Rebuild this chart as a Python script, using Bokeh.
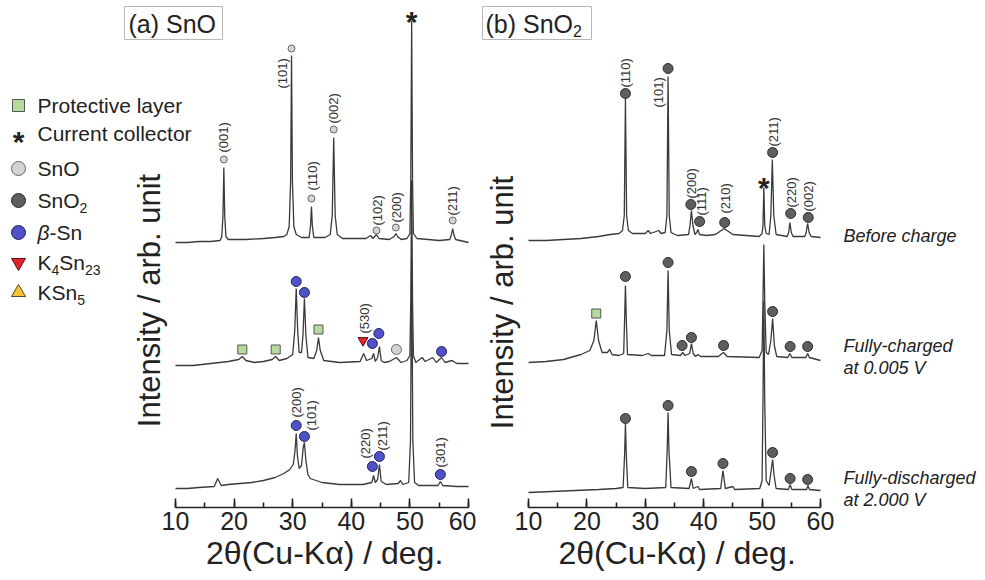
import math
from bokeh.plotting import figure
from bokeh.models import Range1d, SingleIntervalTicker, Title
from bokeh.layouts import row
from bokeh.core.properties import value
from bokeh.embed import file_html
from bokeh.resources import INLINE

# ---------------------------------------------------------------- data
tick_interval = 10
x_bounds = (10, 60)
x_title = "2θ(Cu-Kα) / deg."
y_title = "Intensity / arb. unit"

# (a) SnO electrode -------------------------------------------------
a_before_tth = [10.0, 12.0, 14.0, 16.0, 17.6, 17.9, 18.1, 18.25, 18.4, 18.6, 19.0, 22.0, 25.0, 27.0, 28.5,
                29.0, 29.4, 29.65, 29.8, 29.95, 30.2, 30.6, 31.5, 32.8, 33.05, 33.2, 33.35, 33.6, 35.5, 36.4,
                36.75, 37.0, 37.25, 37.6, 38.5, 42.5, 43.3, 43.7, 44.3, 44.7, 46.5, 47.3, 47.6, 47.9, 48.5,
                49.5, 50.0, 50.15, 50.3, 50.45, 50.6, 51.2, 55.0, 56.8, 57.1, 57.3, 57.5, 57.8, 60.0]
a_before_int = [3, 3, 4, 4, 5, 9, 30, 78, 30, 9, 6, 6, 7, 8, 9,
                11, 19, 65, 190, 65, 19, 11, 8, 8, 20, 39, 20, 8, 8, 11,
                30, 108, 30, 11, 7, 7, 10, 7, 11, 7, 6, 9, 12, 9, 6,
                7, 12, 65, 225, 65, 12, 7, 5, 6, 11, 17, 11, 6, 3]

a_charged_tth = [10.0, 13.0, 16.0, 19.0, 20.8, 21.4, 22.0, 23.5, 25.0, 26.5, 27.1, 27.7, 29.0, 30.0, 30.35,
                 30.6, 30.85, 31.1, 31.5, 31.75, 32.0, 32.25, 32.6, 33.6, 34.1, 34.4, 34.7, 35.3, 38.0, 41.5,
                 42.1, 42.6, 43.5, 43.8, 44.1, 44.5, 44.8, 45.1, 45.6, 46.5, 47.7, 48.5, 49.5, 50.0, 50.15,
                 50.3, 50.45, 50.6, 51.0, 52.1, 52.6, 53.9, 54.5, 55.4, 56.0, 57.2, 58.0, 60.0]
a_charged_int = [3, 3, 5, 7, 9, 12, 8, 6, 7, 9, 12, 8, 10, 14, 38,
                 80, 38, 16, 16, 33, 70, 33, 11, 10, 18, 31, 18, 8, 6, 7,
                 15, 8, 10, 15, 7, 11, 22, 8, 6, 7, 11, 6, 8, 13, 68,
                 188, 68, 13, 6, 11, 7, 11, 6, 11, 6, 8, 5, 5]

a_disch_tth = [10.0, 12.0, 14.0, 16.6, 17.2, 17.8, 19.0, 21.0, 23.0, 25.0, 27.0, 28.5, 29.5, 30.1, 30.4,
               30.6, 30.8, 31.1, 31.5, 31.8, 32.0, 32.25, 32.6, 33.0, 35.0, 38.0, 42.0, 43.5, 43.8, 44.1,
               44.5, 44.8, 45.1, 46.0, 48.0, 48.4, 48.8, 49.8, 50.1, 50.3, 50.5, 50.8, 51.5, 54.8, 55.2,
               55.6, 58.0, 60.0]
a_disch_int = [4, 4, 5, 6, 14, 7, 8, 9, 10, 12, 15, 19, 23, 28, 42,
               59, 37, 24, 27, 45, 50, 32, 18, 14, 10, 8, 8, 10, 17, 10,
               13, 28, 11, 8, 9, 12, 8, 10, 52, 232, 52, 10, 7, 7, 11,
               7, 6, 6]

a_offsets = [262, 139, 15]          # stacking offsets (before, charged, discharged)

# phase markers, panel (a)
a_before_sno_x = [18.25, 29.8, 33.2, 37.0, 44.3, 47.6, 57.3]
a_before_sno_y = [86, 197, 47, 116, 15, 18, 25]
a_before_hkl = ["(001)", "(101)", "(110)", "(002)", "(102)", "(200)", "(211)"]
a_before_hkl_x = [18.25, 28.3, 33.3, 37.0, 44.4, 47.7, 57.3]
a_before_hkl_y = [93, 157, 55, 122, 20, 23, 30]
a_star_x, a_star_y = [50.3], [224]

a_charged_prot_x = [21.4, 27.1, 34.4]
a_charged_prot_y = [19, 19, 39]
a_charged_sn_x = [30.6, 32.0, 43.6, 44.7, 55.4]
a_charged_sn_y = [87, 76, 25, 35, 17]
a_charged_sno_x = [47.7]
a_charged_sno_y = [19]
a_charged_k4_x = [42.0]
a_charged_k4_y = [28]
a_charged_hkl = ["(530)"]
a_charged_hkl_x = [42.2]
a_charged_hkl_y = [35]

a_disch_sn_x = [30.6, 32.0, 43.6, 44.8, 55.2]
a_disch_sn_y = [67, 56, 26, 36, 18]
a_disch_hkl = ["(200)", "(101)", "(220)", "(211)", "(301)"]
a_disch_hkl_x = [30.65, 33.2, 42.5, 45.3, 55.3]
a_disch_hkl_y = [75, 62, 34, 42, 25]

# (b) SnO2 electrode ------------------------------------------------
b_before_tth = [10.0, 13.0, 16.0, 19.0, 22.0, 24.0, 25.5, 26.1, 26.4, 26.6, 26.8, 27.1, 27.8, 30.0, 30.5,
                30.9, 32.3, 32.7, 33.4, 33.7, 33.9, 34.1, 34.4, 35.5, 37.4, 37.65, 37.9, 38.15, 38.5, 38.8,
                39.0, 39.3, 40.5, 42.0, 43.0, 43.5, 44.0, 45.0, 49.5, 50.0, 50.15, 50.3, 50.45, 50.7, 51.2,
                51.5, 51.75, 52.0, 52.4, 54.3, 54.55, 54.75, 55.0, 55.3, 57.3, 57.55, 57.8, 58.05, 58.4, 60.0]
b_before_int = [3, 3, 4, 5, 7, 9, 10, 13, 28, 145, 28, 13, 10, 10, 13,
                10, 13, 10, 11, 28, 167, 28, 11, 8, 9, 18, 33, 18, 9, 11,
                14, 9, 8, 9, 13, 15, 13, 9, 7, 10, 18, 56, 18, 10, 9,
                28, 84, 28, 9, 7, 11, 21, 11, 7, 7, 11, 20, 11, 7, 6]

b_charged_tth = [10.0, 13.0, 16.0, 19.0, 20.5, 21.2, 21.6, 22.0, 22.6, 23.5, 23.9, 24.3, 25.5, 26.3, 26.45,
                 26.6, 26.75, 26.95, 29.5, 30.5, 31.0, 33.3, 33.7, 33.9, 34.1, 34.5, 36.0, 36.4, 36.8, 37.6,
                 37.9, 38.2, 38.6, 39.0, 39.5, 42.5, 43.4, 44.0, 49.5, 50.0, 50.15, 50.3, 50.45, 50.7, 51.1,
                 51.5, 51.8, 52.1, 52.5, 54.4, 54.75, 55.1, 57.5, 57.8, 58.1, 60.0]
b_charged_int = [3, 4, 6, 11, 15, 25, 45, 25, 13, 13, 16, 11, 10, 12, 45,
                 80, 45, 11, 10, 12, 10, 10, 35, 95, 35, 11, 10, 13, 10, 12,
                 22, 12, 9, 11, 9, 9, 13, 9, 8, 15, 65, 121, 65, 13, 11,
                 25, 47, 20, 9, 8, 12, 8, 8, 12, 8, 5]

b_disch_tth = [10.0, 14.0, 18.0, 22.0, 25.0, 26.2, 26.45, 26.6, 26.75, 27.0, 30.0, 33.5, 33.75, 33.9, 34.05,
               34.4, 37.5, 37.9, 38.2, 39.0, 39.3, 42.9, 43.3, 43.7, 45.0, 45.3, 49.6, 50.0, 50.15, 50.3,
               50.45, 50.7, 51.2, 51.55, 51.8, 52.05, 52.4, 54.5, 54.8, 55.1, 57.6, 57.85, 58.1, 60.0]
b_disch_int = [3, 4, 5, 6, 7, 8, 40, 72, 40, 8, 7, 8, 45, 83, 45,
               8, 7, 17, 7, 9, 6, 7, 25, 7, 9, 6, 7, 15, 95, 195,
               95, 15, 10, 25, 36, 20, 7, 6, 11, 6, 6, 10, 6, 5]

b_offsets = [264, 142, 12]

b_before_sno2_x = [26.6, 33.9, 37.8, 39.3, 43.6, 51.8, 54.9, 57.9]
b_before_sno2_y = [150, 175, 39, 22, 21, 91, 30, 26]
b_before_hkl = ["(110)", "(101)", "(200)", "(111)", "(210)", "(211)", "(220)", "(002)"]
b_before_hkl_x = [26.65, 32.2, 37.95, 39.6, 43.7, 51.95, 54.95, 57.95]
b_before_hkl_y = [156, 136, 45, 28, 30, 97, 36, 32]
b_star_x, b_star_y = [50.3], [56]

b_charged_prot_x = [21.6]
b_charged_prot_y = [52]
b_charged_sno2_x = [26.6, 33.9, 36.3, 37.9, 43.4, 51.8, 54.8, 57.8]
b_charged_sno2_y = [89, 103, 20, 28, 20, 54, 19, 19]

b_disch_sno2_x = [26.6, 33.9, 37.9, 43.3, 51.8, 54.8, 57.8]
b_disch_sno2_y = [77, 90, 24, 32, 43, 17, 16]

state_labels = [["Before charge"], ["Fully-charged", "at 0.005 V"], ["Fully-discharged", "at 2.000 V"]]
legend_labels = ["Protective layer", "Current collector", "SnO", "SnO", "-Sn", "K", "KSn"]

# ---------------------------------------------------------------- styling
FONT = value("Liberation Sans")
H = 580
FRAME_H = 507
LINE = "#3a3a3a"
TXT = "#222222"

SNO = dict(marker="circle", fill_color="#d4d4d4", line_color="#666666")
SNO2 = dict(marker="circle", fill_color="#5e5e5e", line_color="#2c2c2c")
SN = dict(marker="circle", fill_color="#5050c8", line_color="#24245c")
PROT = dict(marker="square", fill_color="#b6d99e", line_color="#555555")
K4 = dict(marker="inverted_triangle", fill_color="#e0262a", line_color="#5a1010")
KSN5 = dict(marker="triangle", fill_color="#f6c531", line_color="#4a4a2a")


def Y(py):
    return FRAME_H - py


def make_fig(width, px10, px60):
    ppd = (px60 - px10) / 50.0
    x0 = 10 - px10 / ppd
    x1 = x0 + width / ppd
    p = figure(width=width, height=H, x_range=Range1d(x0, x1), y_range=Range1d(0, FRAME_H),
               output_backend="svg", toolbar_location=None, y_axis_location=None,
               min_border_left=0, min_border_right=0, min_border_top=0, min_border_bottom=H - FRAME_H)
    p.grid.visible = False
    p.outline_line_color = None
    p.background_fill_color = "white"
    p.border_fill_color = "white"
    ax = p.xaxis[0]
    ax.bounds = x_bounds
    ax.ticker = SingleIntervalTicker(interval=tick_interval, num_minor_ticks=2)
    ax.axis_line_width = 1.6
    ax.axis_line_color = "#222222"
    ax.major_tick_in = 9
    ax.major_tick_out = 0
    ax.minor_tick_in = 5
    ax.minor_tick_out = 0
    ax.major_tick_line_width = 1.6
    ax.minor_tick_line_width = 1.6
    ax.major_tick_line_color = "#222222"
    ax.minor_tick_line_color = "#222222"
    ax.major_label_text_font = "Liberation Sans"
    ax.major_label_text_font_size = "25px"
    ax.major_label_text_color = TXT
    ax.major_label_standoff = 4
    # axis title, centred on the bounded axis (px10..px60)
    title_w = 232
    t = Title(text=x_title, align="left", offset=(px10 + px60) / 2 - title_w / 2,
              text_font="Liberation Sans", text_font_size="32px", text_font_style="normal",
              text_color=TXT, standoff=0)
    p.add_layout(t, "below")
    return p, (lambda px: x0 + px / ppd)


def trace(p, tth, inten, off):
    p.line(tth, [off + v for v in inten], line_color=LINE, line_width=1.3)


def marks(p, xs, ys, off, style, size):
    p.scatter(x=xs, y=[off + v for v in ys], size=size, line_width=1, **style)


def hkl(p, xs, ys, off, texts):
    p.text(x=xs, y=[off + v for v in ys], text=texts, angle=math.pi / 2, text_align="left",
           text_baseline="middle", text_font=FONT, text_font_size="13px", text_color="#333333")


def txt(p, x, y, s, size, style="normal", align="left", baseline="middle", angle=0.0, color=TXT):
    p.text(x=[x], y=[y], text=[s], text_font=FONT, text_font_size=size, text_font_style=style,
           text_align=align, text_baseline=baseline, angle=angle, text_color=color)


# ---------------------------------------------------------------- panel (a)
WA = 476
pA, XA = make_fig(WA, 175, 468)

trace(pA, a_disch_tth, a_disch_int, a_offsets[2])
trace(pA, a_charged_tth, a_charged_int, a_offsets[1])
trace(pA, a_before_tth, a_before_int, a_offsets[0])

marks(pA, a_before_sno_x, a_before_sno_y, a_offsets[0], SNO, 7)
hkl(pA, a_before_hkl_x, a_before_hkl_y, a_offsets[0], a_before_hkl)
txt(pA, a_star_x[0], a_offsets[0] + a_star_y[0], "*", "30px", style="bold", align="center")

marks(pA, a_charged_prot_x, a_charged_prot_y, a_offsets[1], PROT, 9)
marks(pA, a_charged_sn_x, a_charged_sn_y, a_offsets[1], SN, 10)
marks(pA, a_charged_sno_x, a_charged_sno_y, a_offsets[1], SNO, 10)
marks(pA, a_charged_k4_x, a_charged_k4_y, a_offsets[1], K4, 10)
hkl(pA, a_charged_hkl_x, a_charged_hkl_y, a_offsets[1], a_charged_hkl)

marks(pA, a_disch_sn_x, a_disch_sn_y, a_offsets[2], SN, 10)
hkl(pA, a_disch_hkl_x, a_disch_hkl_y, a_offsets[2], a_disch_hkl)

# y label
txt(pA, XA(149), Y(300), y_title, "31px", align="center", angle=math.pi / 2)

# panel title
pA.quad(left=XA(124), right=XA(222), top=Y(6), bottom=Y(39), fill_color="white",
        line_color="#b8b8b8", line_width=1)
txt(pA, XA(128), Y(23), "(a) SnO", "25px")

# legend
LX_M, LX_T = XA(18), XA(37)
leg_py = [105, 133, 168, 200, 232, 262, 292]
pA.scatter(x=[LX_M], y=[Y(leg_py[0])], size=12, line_width=1, **PROT)
txt(pA, LX_M, Y(leg_py[1] + 8), "*", "30px", style="bold", align="center")
pA.scatter(x=[LX_M], y=[Y(leg_py[2])], size=14, line_width=1, **SNO)
pA.scatter(x=[LX_M], y=[Y(leg_py[3])], size=14, line_width=1, **SNO2)
pA.scatter(x=[LX_M], y=[Y(leg_py[4])], size=14, line_width=1, **SN)
pA.scatter(x=[LX_M], y=[Y(leg_py[5])], size=14, line_width=1, **K4)
pA.scatter(x=[LX_M], y=[Y(leg_py[6])], size=14, line_width=1, **KSN5)
LF, SF = "21px", "14px"
txt(pA, LX_T, Y(leg_py[0]), legend_labels[0], LF)
txt(pA, LX_T, Y(leg_py[1]), legend_labels[1], LF)
txt(pA, LX_T, Y(leg_py[2]), legend_labels[2], LF)
txt(pA, LX_T, Y(leg_py[3]), legend_labels[3], LF)
txt(pA, XA(37 + 42), Y(leg_py[3] + 7), "2", SF)
txt(pA, LX_T, Y(leg_py[4]), "β", LF, style="italic")
txt(pA, XA(37 + 12), Y(leg_py[4]), legend_labels[4], LF)
txt(pA, LX_T, Y(leg_py[5]), legend_labels[5], LF)
txt(pA, XA(37 + 14), Y(leg_py[5] + 7), "4", SF)
txt(pA, XA(37 + 21.8), Y(leg_py[5]), "Sn", LF)
txt(pA, XA(37 + 47.5), Y(leg_py[5] + 7), "23", SF)
txt(pA, LX_T, Y(leg_py[6]), legend_labels[6], LF)
txt(pA, XA(37 + 39.7), Y(leg_py[6] + 7), "5", SF)

# ---------------------------------------------------------------- panel (b)
WB = 985 - WA
pB, XB = make_fig(WB, 528 - WA, 820 - WA)

trace(pB, b_disch_tth, b_disch_int, b_offsets[2])
trace(pB, b_charged_tth, b_charged_int, b_offsets[1])
trace(pB, b_before_tth, b_before_int, b_offsets[0])

marks(pB, b_before_sno2_x, b_before_sno2_y, b_offsets[0], SNO2, 10)
hkl(pB, b_before_hkl_x, b_before_hkl_y, b_offsets[0], b_before_hkl)
txt(pB, b_star_x[0], b_offsets[0] + b_star_y[0], "*", "30px", style="bold", align="center")

marks(pB, b_charged_prot_x, b_charged_prot_y, b_offsets[1], PROT, 9)
marks(pB, b_charged_sno2_x, b_charged_sno2_y, b_offsets[1], SNO2, 10)
marks(pB, b_disch_sno2_x, b_disch_sno2_y, b_offsets[2], SNO2, 10)

txt(pB, XB(502 - WA), Y(302), y_title, "31px", align="center", angle=math.pi / 2)

pB.quad(left=XB(482 - WA), right=XB(591 - WA), top=Y(6), bottom=Y(39), fill_color="white",
        line_color="#b8b8b8", line_width=1)
txt(pB, XB(485 - WA), Y(23), "(b) SnO", "25px")
txt(pB, XB(485 - WA + 87.5), Y(30), "2", "16px")

SX = XB(843 - WA)
txt(pB, SX, Y(235), state_labels[0][0], "18px", style="italic")
txt(pB, SX, Y(345), state_labels[1][0], "18px", style="italic")
txt(pB, SX, Y(367), state_labels[1][1], "18px", style="italic")
txt(pB, SX, Y(477), state_labels[2][0], "18px", style="italic")
txt(pB, SX, Y(499), state_labels[2][1], "18px", style="italic")

layout = row(pA, pB)
open("out.html", "w").write(file_html(layout, INLINE))
